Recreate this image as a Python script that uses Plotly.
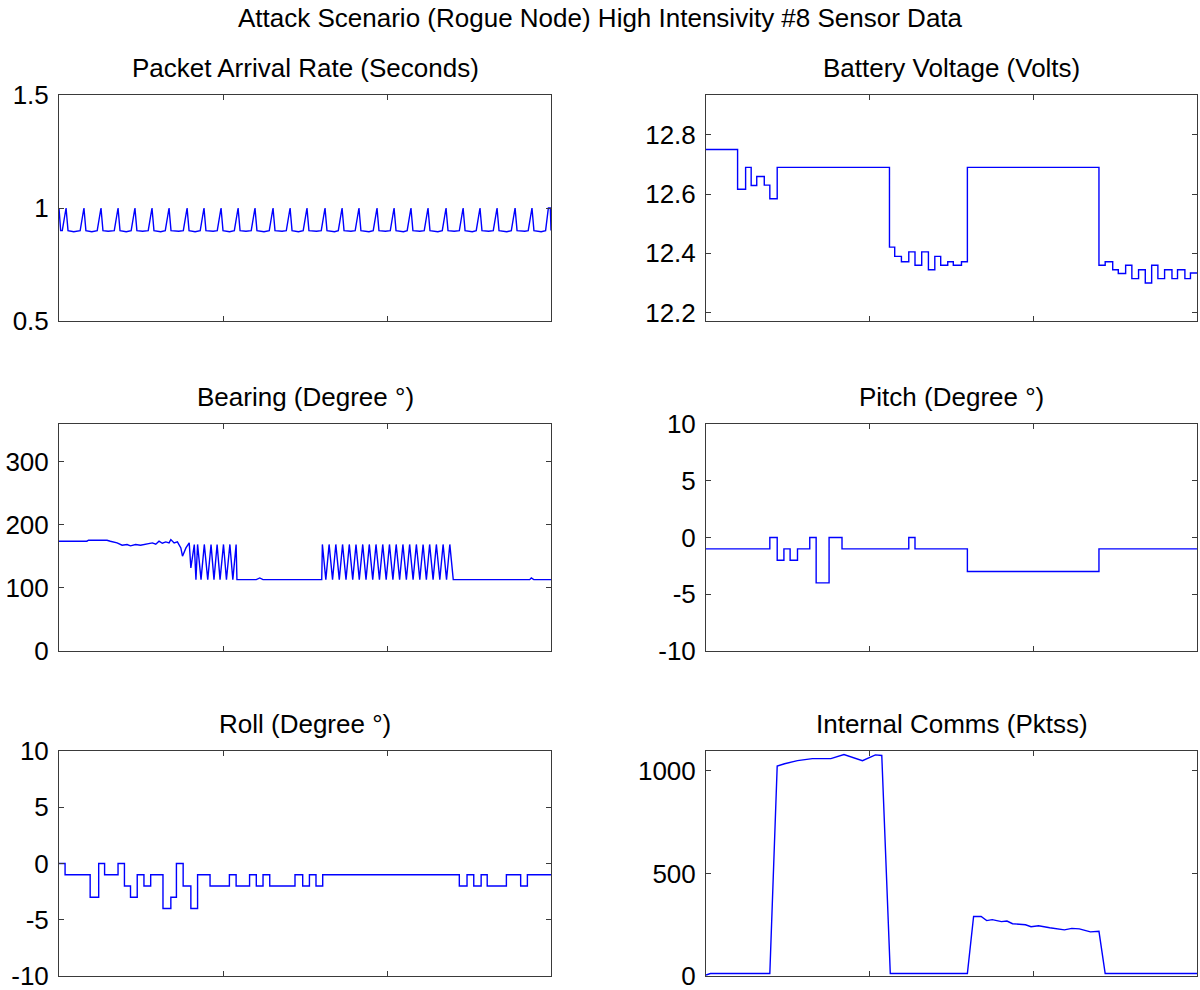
import plotly.graph_objects as go

# ---------------- data ----------------
main_title = "Attack Scenario (Rogue Node) High Intensivity #8 Sensor Data"
titles = ["Packet Arrival Rate (Seconds)", "Battery Voltage (Volts)",
          "Bearing (Degree \u00b0)", "Pitch (Degree \u00b0)",
          "Roll (Degree \u00b0)", "Internal Comms (Pktss)"]

pkt_pts = [(0,1.0),(1.0,0.9),(2.0,0.9),(4.3,1.0),(5.5,0.9),(9,0.895),(12.9,0.9),(15.2,1.0),(16.4,0.9),(20,0.895),
           (23.3,0.9),(25.6,1.0),(26.8,0.9),(30,0.897),(33.7,0.9),(36,1.0),(37.2,0.9),(41,0.895),(44.0,0.9),(46.3,1.0),
           (47.5,0.9),(51,0.897),(54.4,0.9),(56.7,1.0),(57.9,0.9),(62,0.895),(64.8,0.9),(67.1,1.0),(68.3,0.9),(73,0.897),
           (75.8,0.9),(78.1,1.0),(79.3,0.9),(83,0.895),(86.1,0.9),(88.4,1.0),(89.6,0.9),(94,0.897),(96.5,0.9),(98.8,1.0),
           (100,0.9),(104,0.895),(106.9,0.9),(109.2,1.0),(110.4,0.9),(114,0.897),(117.2,0.9),(119.5,1.0),(120.7,0.9),
           (125,0.895),(128.2,0.9),(130.5,1.0),(131.7,0.9),(136,0.897),(138.6,0.9),(140.9,1.0),(142.1,0.9),(146,0.895),
           (148.9,0.9),(151.2,1.0),(152.4,0.9),(157,0.897),(159.9,0.9),(162.2,1.0),(163.4,0.9),(168,0.895),(170.3,0.9),
           (172.6,1.0),(173.8,0.9),(178,0.897),(180.6,0.9),(182.9,1.0),(184.1,0.9),(189,0.895),(191.6,0.9),(193.9,1.0),
           (195.1,0.9),(199,0.897),(202.0,0.9),(204.3,1.0),(205.5,0.9),(210,0.895),(212.3,0.9),(214.6,1.0),(215.8,0.9),
           (220,0.897),(222.7,0.9),(225,1.0),(226.2,0.9),(231,0.895),(233.7,0.9),(236,1.0),(237.2,0.9),(241,0.897),
           (244.1,0.9),(246.4,1.0),(247.6,0.9),(252,0.895),(254.4,0.9),(256.7,1.0),(257.9,0.9),(262,0.897),(264.8,0.9),
           (267.1,1.0),(268.3,0.9),(273,0.895),(275.8,0.9),(278.1,1.0),(279.3,0.9),(284,0.897),(286.1,0.9),(288.4,1.0),
           (289.6,0.9),(294,0.895),(296.7,0.9),(298.4,1.0),(299.6,1.0),(300,0.9)]

batt_x = [0, 19.3, 24.2, 27.6, 31.0, 35.6, 39.0, 43.5, 112.1, 115.3, 119.4, 123.9, 127.7, 131.8, 135.9, 139.8,
          143.4, 147.7, 151.1, 156.1, 159.7, 240.1, 243.9, 248.5, 251.9, 256.4, 260.2, 264.3, 268.4, 272.3,
          276.1, 280.2, 284.7, 288.1, 292.6, 296.0, 300]
batt_y = [12.75, 12.616, 12.69, 12.629, 12.659, 12.63, 12.584, 12.69, 12.421, 12.39, 12.372, 12.405, 12.36,
          12.405, 12.345, 12.39, 12.36, 12.372, 12.36, 12.372, 12.69, 12.36, 12.372, 12.345, 12.332, 12.36,
          12.315, 12.345, 12.30, 12.36, 12.315, 12.345, 12.315, 12.345, 12.315, 12.334, 12.334]

bear_pts = [(0,174.1),(17.0,174.1),(18.0,175.7),(29.3,175.7),(31.3,174.1),(35.4,171.4),(38.5,167.7),(41.5,168.8),
            (43.6,166.7),(46.7,168.8),(49.7,167.7),(52.8,169.8),(56.9,171.4),(59.0,169.3),(61.0,174.1),(63.0,170.9),
            (65.1,173.0),(67.1,171.4),(68.2,176.7),(70.2,171.4),(72.2,173.0),(74.3,163.5),(75.3,150.3),(77.4,163.5),
            (79.4,171.4),(80.4,131.7),(82.5,168.8),(83.5,113.2),(84.5,169),(86.6,113.2),(88.6,169),(90.7,113.2),
            (92.7,169),(94.5,113.2),(96.4,169),(98.2,113.2),(100.3,169),(102.1,113.2),(104.2,169),(106.0,113.2),
            (108.0,169),(108.5,113.2),(120.3,113.2),(122.4,115.9),(124.4,113.2),(160.2,113.2),(160.6,169),
            (162.7,113.2),(164.7,169),(166.8,113.2),(168.8,169),(170.9,113.2),(172.9,169),(175.0,113.2),(177.0,169),
            (179.1,113.2),(181.1,169),(183.1,113.2),(185.2,169),(187.2,113.2),(189.2,169),(191.3,113.2),(193.3,169),
            (195.4,113.2),(197.4,169),(199.5,113.2),(201.5,169),(203.6,113.2),(205.6,169),(207.7,113.2),(209.7,169),
            (211.8,113.2),(213.8,169),(215.9,113.2),(217.9,169),(220.0,113.2),(222.0,169),(224.0,113.2),(226.0,169),
            (228.1,113.2),(230.1,169),(232.2,113.2),(234.2,169),(236.3,113.2),(238.3,169),(240.4,113.2),(287.0,113.2),
            (288.0,115.9),(289.5,113.2),(300,113.2)]

pitch_x = [0, 39.0, 43.5, 47.6, 51.4, 55.9, 63.4, 67.3, 75.2, 83.1, 123.9, 127.7, 159.7, 240.1, 300]
pitch_y = [-1, 0, -2, -1, -2, -1, 0, -4, 0, -1, 0, -1, -3, -1, -1]

roll_x = [0, 3.7, 19.0, 24.2, 27.8, 36.0, 39.9, 43.6, 47.7, 51.8, 55.9, 63.4, 68.2, 71.6, 75.7, 80.4, 84.5,
          92.1, 103.9, 108.0, 116.2, 120.3, 124.4, 128.5, 143.9, 148.6, 152.7, 156.7, 160.8, 244.1, 248.8,
          252.9, 257.4, 261.1, 272.8, 281.5, 285.6, 300]
roll_y = [0, -1, -3, 0, -1, 0, -2, -3, -1, -2, -1, -4, -3, 0, -2, -4, -1,
          -2, -1, -2, -1, -2, -1, -2, -1, -2, -1, -2, -1, -2, -1,
          -2, -1, -2, -1, -2, -1, -1]

comms_x = [0, 2.7, 39.0, 43.5, 48.0, 55.9, 65.0, 76.3, 84.3, 95.6, 103.5, 107.4, 112.6, 159.7, 163.5, 168.1,
           171.5, 174.9, 180.5, 183.9, 187.3, 195.2, 198.6, 203.2, 210.0, 219.0, 223.5, 228.1, 234.9, 240.1,
           243.9, 300]
comms_y = [5, 12, 12, 1024, 1035, 1050, 1060, 1060, 1080, 1050, 1078, 1075, 12, 12, 290, 290,
           270, 275, 265, 268, 255, 250, 240, 245, 235, 225, 232, 230, 215, 218,
           12, 12]

y_ranges = [[0.5, 1.5], [12.172, 12.934], [0, 360], [-10, 10], [-10, 10], [0, 1097]]
y_ticks = [[0.5, 1, 1.5], [12.2, 12.4, 12.6, 12.8], [0, 100, 200, 300], [-10, -5, 0, 5, 10],
           [-10, -5, 0, 5, 10], [0, 500, 1000]]
y_ticktext = [["0.5", "1", "1.5"], ["12.2", "12.4", "12.6", "12.8"], ["0", "100", "200", "300"],
              ["-10", "-5", "0", "5", "10"], ["-10", "-5", "0", "5", "10"], ["0", "500", "1000"]]

# ---------------- layout geometry ----------------
W, H = 1200, 990
col_px = [(59, 551), (706, 1197)]
row_px = [(95, 321), (424, 651), (751, 976)]
FONT = "Liberation Sans, Arial, sans-serif"
LINE = "rgb(0,0,255)"
FRAME = "#3a3a3a"
FS = 26

fig = go.Figure()

series = [
    dict(x=[p[0] for p in pkt_pts], y=[p[1] for p in pkt_pts], shape="linear"),
    dict(x=batt_x, y=batt_y, shape="hv"),
    dict(x=[p[0] for p in bear_pts], y=[p[1] for p in bear_pts], shape="linear"),
    dict(x=pitch_x, y=pitch_y, shape="hv"),
    dict(x=roll_x, y=roll_y, shape="hv"),
    dict(x=comms_x, y=comms_y, shape="linear"),
]

layout = dict(template="none", width=W, height=H, autosize=False,
              margin=dict(l=0, r=0, t=0, b=0, pad=0),
              paper_bgcolor="white", plot_bgcolor="white", showlegend=False,
              font=dict(family=FONT, color="black"))
annotations = [dict(text=main_title, x=0.5, y=1 - 18 / H, xref="paper", yref="paper",
                    showarrow=False, xanchor="center", yanchor="middle",
                    font=dict(size=FS, family=FONT, color="black"))]

for i, s in enumerate(series):
    r, c = divmod(i, 2)
    n = "" if i == 0 else str(i + 1)
    fig.add_trace(go.Scatter(x=s["x"], y=s["y"], mode="lines",
                             line=dict(color=LINE, width=1.4, shape=s["shape"]),
                             xaxis="x" + n, yaxis="y" + n, hoverinfo="skip"))
    x0, x1 = col_px[c]
    y0, y1 = row_px[r]
    layout["xaxis" + n] = dict(domain=[x0 / W, x1 / W], anchor="y" + n, range=[0, 300],
                               tickvals=[100, 200], showticklabels=False, ticks="inside", ticklen=5,
                               tickcolor=FRAME, showline=True, linecolor=FRAME, linewidth=1,
                               mirror="ticks", showgrid=False, zeroline=False, fixedrange=True,
                               automargin=False)
    layout["yaxis" + n] = dict(domain=[1 - y1 / H, 1 - y0 / H], anchor="x" + n, range=y_ranges[i],
                               tickvals=y_ticks[i], ticktext=y_ticktext[i], ticks="inside", ticklen=5,
                               tickcolor=FRAME, showline=True, linecolor=FRAME, linewidth=1,
                               mirror="ticks", showgrid=False, zeroline=False, fixedrange=True,
                               tickfont=dict(size=FS, family=FONT, color="black"),
                               ticklabelstandoff=4, automargin=False, ticklabeloverflow="allow")
    annotations.append(dict(text=titles[i], x=(x0 + x1) / 2 / W, y=1 - (y0 - 27) / H,
                            xref="paper", yref="paper", showarrow=False,
                            xanchor="center", yanchor="middle",
                            font=dict(size=FS, family=FONT, color="black")))

layout["annotations"] = annotations
fig.update_layout(**layout)
fig.write_html("out.html", config={"displayModeBar": False},
               post_script="document.body.style.margin='0px';document.body.style.overflow='hidden';")
